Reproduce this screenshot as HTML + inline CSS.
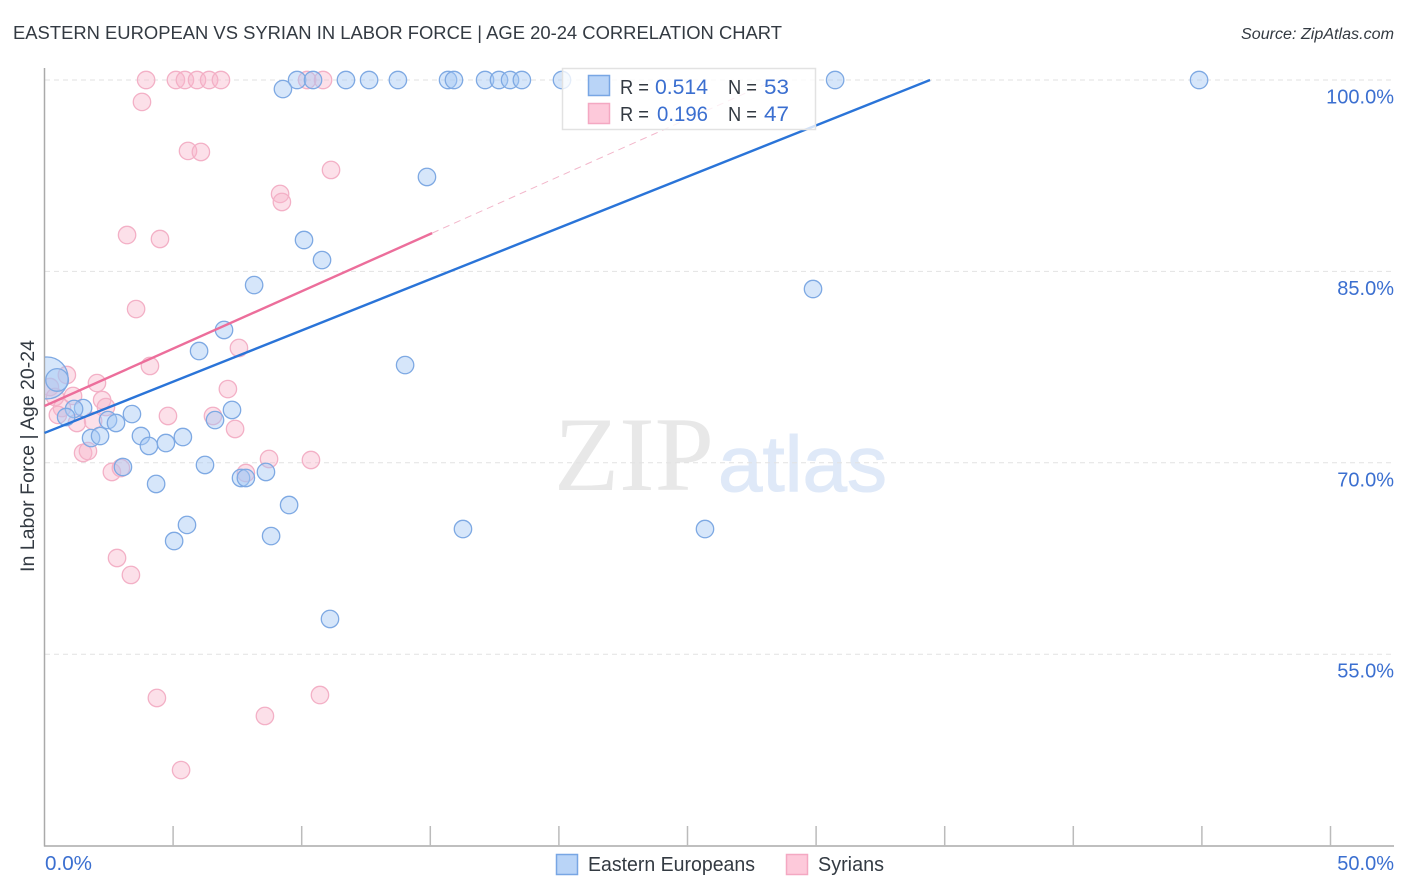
<!DOCTYPE html>
<html lang="en">
<head>
<meta charset="utf-8">
<title>Eastern European vs Syrian in Labor Force | Age 20-24 Correlation Chart</title>
<style>
html,body{margin:0;padding:0;background:#fff;}
svg{display:block;font-family:"Liberation Sans",sans-serif;}
</style>
</head>
<body>
<svg id="chart" width="1406" height="892" viewBox="0 0 1406 892" xmlns="http://www.w3.org/2000/svg">
  <defs>
    <clipPath id="plot-clip"><rect x="45" y="60" width="1349" height="786"/></clipPath>
  </defs>
  <text x="13" y="39" font-size="18" fill="#333a42" textLength="769" lengthAdjust="spacingAndGlyphs">EASTERN EUROPEAN VS SYRIAN IN LABOR FORCE | AGE 20-24 CORRELATION CHART</text>
  <text x="1394" y="39" font-size="15.5" font-style="italic" fill="#333a42" text-anchor="end" textLength="153" lengthAdjust="spacingAndGlyphs">Source: ZipAtlas.com</text>

  <g>
    <text x="554" y="490" font-family="'Liberation Serif',serif" font-size="106" fill="#e8e8e8" textLength="160" lengthAdjust="spacingAndGlyphs">ZIP</text>
    <text x="718" y="491" font-family="'Liberation Sans',sans-serif" font-size="79" fill="#dfe9f8" stroke="#dfe9f8" stroke-width="1" textLength="169" lengthAdjust="spacingAndGlyphs">atlas</text>
  </g>

  <g id="grid"></g>
  <g id="axes"></g>
  <g id="pink-points" clip-path="url(#plot-clip)"></g>
  <g id="blue-points" clip-path="url(#plot-clip)"></g>
  <g id="trends"></g>

  <text transform="translate(34,456) rotate(-90)" font-size="19.5" fill="#333a42" text-anchor="middle" textLength="232" lengthAdjust="spacingAndGlyphs">In Labor Force | Age 20-24</text>

  <g>
    <rect x="562.5" y="68.5" width="253" height="61" fill="#fff" fill-opacity="0.78" stroke="#e2e2e2" stroke-width="1.5"/>
    <rect x="588.5" y="75.5" width="21" height="20" fill="#b9d4f7" stroke="#78a6e4" stroke-width="1.5"/>
    <rect x="588.5" y="103.5" width="21" height="20" fill="#fdc9da" stroke="#f4a8c2" stroke-width="1.5"/>
    <text x="620" y="94" font-size="20" fill="#333a42" textLength="29" lengthAdjust="spacingAndGlyphs">R =</text>
    <text x="655" y="94" font-size="21" fill="#3b6fd0" textLength="53" lengthAdjust="spacingAndGlyphs">0.514</text>
    <text x="728" y="94" font-size="20" fill="#333a42" textLength="29" lengthAdjust="spacingAndGlyphs">N =</text>
    <text x="764" y="94" font-size="21" fill="#3b6fd0" textLength="25" lengthAdjust="spacingAndGlyphs">53</text>
    <text x="620" y="121" font-size="20" fill="#333a42" textLength="29" lengthAdjust="spacingAndGlyphs">R =</text>
    <text x="657" y="121" font-size="21" fill="#3b6fd0" textLength="51" lengthAdjust="spacingAndGlyphs">0.196</text>
    <text x="728" y="121" font-size="20" fill="#333a42" textLength="29" lengthAdjust="spacingAndGlyphs">N =</text>
    <text x="764" y="121" font-size="21" fill="#3b6fd0" textLength="25" lengthAdjust="spacingAndGlyphs">47</text>
  </g>

  <g>
    <rect x="556.5" y="854.5" width="21" height="20" fill="#b9d4f7" stroke="#78a6e4" stroke-width="1.5"/>
    <text x="588" y="871" font-size="20" fill="#333a42" textLength="167" lengthAdjust="spacingAndGlyphs">Eastern Europeans</text>
    <rect x="786.5" y="854.5" width="21" height="20" fill="#fdc9da" stroke="#f4a8c2" stroke-width="1.5"/>
    <text x="818" y="871" font-size="20" fill="#333a42" textLength="66" lengthAdjust="spacingAndGlyphs">Syrians</text>
  </g>
</svg>
<script>
var yTickValues = [100, 85, 70, 55];
var yTickLabels = ['100.0%', '85.0%', '70.0%', '55.0%'];
var xTickValues = [5, 10, 15, 20, 25, 30, 35, 40, 45, 50];
var xEndLabels = ['0.0%', '50.0%'];

var blueX = [9.82,10.44,11.72,12.62,13.74,15.69,15.92,17.13,17.67,18.10,18.56,20.12,30.74,44.89,9.27,14.87,10.09,10.79,8.15,29.88,6.98,6.01,14.02,0.10,0.49,1.50,1.15,0.84,3.40,2.47,2.78,1.81,2.16,3.75,4.06,4.72,5.38,3.05,4.34,6.24,7.29,6.63,7.64,7.83,8.61,9.51,5.54,5.04,8.81,11.10,16.27,25.68,18.72];
var blueY = [100,100,100,100,100,100,100,100,100,100,100,100,100,100,99.29,92.40,87.46,85.89,83.93,83.62,80.41,78.76,77.66,76.65,76.49,74.29,74.22,73.59,73.82,73.35,73.12,71.94,72.10,72.10,71.32,71.55,72.02,69.67,68.34,69.83,74.14,73.35,68.81,68.81,69.28,66.69,65.13,63.87,64.26,57.76,64.81,64.81,72.81];
var blueWeight = [1,1,1,1,1,1,1,1,1,1,1,1,1,1,1,1,1,1,1,1,1,1,1,5.8,1.7,1,1,1,1,1,1,1,1,1,1,1,1,1,1,1,1,1,1,1,1,1,1,1,1,1,1,1];

var pinkX = [3.95,5.11,5.46,5.93,6.40,6.86,10.21,10.83,3.79,5.58,6.08,11.14,9.16,9.23,3.21,4.49,3.56,7.56,4.10,0.87,2.04,7.13,0.21,0.41,1.11,2.24,2.39,0.68,0.52,1.26,1.89,4.80,6.55,7.41,1.50,1.69,2.62,2.97,8.73,10.36,7.83,2.82,3.36,4.37,10.71,8.57,5.31];
var pinkY = [100,100,100,100,100,100,100,100,98.28,94.44,94.36,92.95,91.07,90.44,87.85,87.54,82.05,79.00,77.59,76.88,76.25,75.78,75.94,75.16,75.24,74.92,74.37,74.29,73.75,73.12,73.28,73.67,73.67,72.65,70.77,70.92,69.28,69.59,70.30,70.22,69.20,62.54,61.21,51.57,51.80,50.16,45.92];

var blueTrendX = [0, 34.43];
var blueTrendY = [72.34, 100];
var pinkTrendX = [0, 15.07];
var pinkTrendY = [74.45, 88.0];
var pinkExtendX = [15.07, 28.4];
var pinkExtendY = [88.0, 100];

var NS = 'http://www.w3.org/2000/svg';
function sx(v) { return 44.5 + v * 25.72; }
function sy(v) { return 80 + (100 - v) * 12.76; }
function make(tag, attrs, parent) {
  var el = document.createElementNS(NS, tag);
  for (var k in attrs) { el.setAttribute(k, attrs[k]); }
  parent.appendChild(el);
  return el;
}

var gridG = document.getElementById('grid');
var axesG = document.getElementById('axes');

yTickValues.forEach(function (v, i) {
  var line = make('line', {x1: 45, x2: 1394, y1: sy(v), y2: sy(v), stroke: '#e2e2e2', 'stroke-width': 1, 'stroke-dasharray': '5 4'}, gridG);
  
  
  var label = make('text', {x: 1394, y: sy(v) + 23.5, 'font-size': 20, fill: '#3b6fd0', 'text-anchor': 'end'}, axesG);
  label.textContent = yTickLabels[i];
  
  
});

var yAxisLine = make('line', {x1: 44.5, x2: 44.5, y1: 68, y2: 846.5, stroke: '#aaaaaa', 'stroke-width': 1.5}, axesG);


var xAxisLine = make('line', {x1: 44, x2: 1394, y1: 846, y2: 846, stroke: '#aaaaaa', 'stroke-width': 1.5}, axesG);



xTickValues.forEach(function (v) {
  var tick = make('line', {x1: sx(v), x2: sx(v), y1: 826, y2: 846, stroke: '#bbbbbb', 'stroke-width': 1.5}, axesG);
  
  
});

var xStart = make('text', {x: 45, y: 870, 'font-size': 20, fill: '#3b6fd0', textLength: 47, lengthAdjust: 'spacingAndGlyphs'}, axesG);
xStart.textContent = xEndLabels[0];


var xEnd = make('text', {x: 1394, y: 870, 'font-size': 20, fill: '#3b6fd0', 'text-anchor': 'end'}, axesG);
xEnd.textContent = xEndLabels[1];



var pinkG = document.getElementById('pink-points');
pinkX.forEach(function (x, i) {
  var c = make('circle', {cx: sx(x), cy: sy(pinkY[i]), r: 8.7, fill: '#f9b4ca', 'fill-opacity': 0.42, stroke: '#f3b0c6', 'stroke-width': 1.3}, pinkG);
  
  
});

var blueG = document.getElementById('blue-points');
blueX.forEach(function (x, i) {
  var c = make('circle', {cx: sx(x), cy: sy(blueY[i]), r: 8.7 * Math.sqrt(blueWeight[i]), fill: '#a4c8f3', 'fill-opacity': 0.45, stroke: '#7ea9e3', 'stroke-width': 1.3}, blueG);
  
  
});

var trendG = document.getElementById('trends');
var pinkDash = make('line', {x1: sx(pinkExtendX[0]), y1: sy(pinkExtendY[0]), x2: sx(pinkExtendX[1]), y2: sy(pinkExtendY[1]), stroke: '#f2b6ca', 'stroke-width': 1, 'stroke-dasharray': '7 5'}, trendG);


var blueTrend = make('line', {x1: sx(blueTrendX[0]), y1: sy(blueTrendY[0]), x2: sx(blueTrendX[1]), y2: sy(blueTrendY[1]), stroke: '#2a74d8', 'stroke-width': 2.4}, trendG);


var pinkTrend = make('line', {x1: sx(pinkTrendX[0]), y1: sy(pinkTrendY[0]), x2: sx(pinkTrendX[1]), y2: sy(pinkTrendY[1]), stroke: '#ec6e9b', 'stroke-width': 2.4}, trendG);


</script>
</body>
</html>
